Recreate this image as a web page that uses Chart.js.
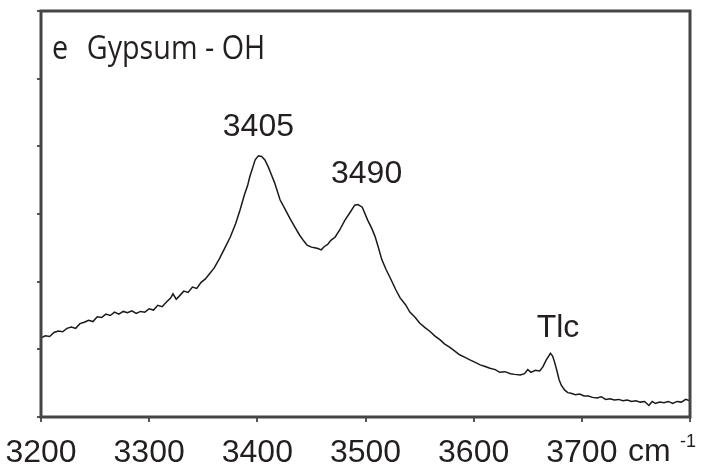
<!DOCTYPE html>
<html>
<head>
<meta charset="utf-8">
<script src="https://cdn.jsdelivr.net/npm/chart.js@4.4.1/dist/chart.umd.min.js"></script>
<style>
    html, body { margin: 0; padding: 0; background: #fff; }
    #wrap { width: 703px; height: 476px; }
</style>
</head>
<body>
<div id="wrap"><canvas id="ir-chart" width="703" height="476"></canvas></div>
<script>
// Datos del espectro (número de onda en cm-1, absorbancia relativa)
const wavenumbers = [
    3200, 3204, 3208, 3212, 3216, 3220, 3224, 3228, 3232, 3236,
    3240, 3244, 3248, 3252, 3256, 3260, 3264, 3268, 3272, 3276,
    3280, 3284, 3288, 3292, 3296, 3300, 3304, 3308, 3312, 3316,
    3320, 3322, 3325, 3328, 3332, 3336, 3340, 3344, 3348, 3352,
    3356, 3360, 3365, 3370, 3375, 3380, 3384, 3388, 3391, 3393,
    3396, 3398, 3401, 3404, 3407, 3410, 3412, 3416, 3421, 3426,
    3430, 3435, 3439, 3443, 3446, 3450, 3453, 3456, 3459, 3462,
    3465, 3468, 3472, 3476, 3481, 3486, 3490, 3493, 3497, 3502,
    3506, 3509, 3512, 3515, 3519, 3523, 3528, 3532, 3537, 3541,
    3546, 3550, 3555, 3560, 3564, 3569, 3573, 3578, 3582, 3587,
    3592, 3597, 3601, 3606, 3610, 3615, 3620, 3624, 3629, 3634,
    3638, 3643, 3647, 3650, 3653, 3657, 3661, 3664, 3667, 3671,
    3673, 3675, 3677, 3679, 3681, 3684, 3687, 3690, 3694, 3698,
    3702, 3706, 3710, 3714, 3718, 3722, 3726, 3730, 3734, 3738,
    3742, 3746, 3750, 3754, 3758, 3762, 3765, 3768, 3772, 3776,
    3780, 3784, 3788, 3792, 3796, 3800
];
const absorbance = [
    1.17, 1.20, 1.19, 1.25, 1.27, 1.26, 1.31, 1.33, 1.31, 1.38,
    1.40, 1.43, 1.41, 1.48, 1.47, 1.52, 1.50, 1.55, 1.52, 1.56,
    1.54, 1.57, 1.53, 1.56, 1.55, 1.60, 1.58, 1.65, 1.63, 1.70,
    1.76, 1.82, 1.74, 1.79, 1.86, 1.84, 1.92, 1.90, 1.99, 2.04,
    2.12, 2.20, 2.34, 2.50, 2.66, 2.86, 3.06, 3.28, 3.42, 3.55,
    3.70, 3.80, 3.86, 3.85, 3.80, 3.70, 3.62, 3.46, 3.21, 3.06,
    2.94, 2.80, 2.69, 2.60, 2.54, 2.51, 2.50, 2.49, 2.47, 2.52,
    2.55, 2.61, 2.66, 2.76, 2.91, 3.03, 3.13, 3.14, 3.10, 2.91,
    2.78, 2.66, 2.50, 2.33, 2.18, 2.05, 1.88, 1.76, 1.66, 1.55,
    1.47, 1.39, 1.32, 1.26, 1.20, 1.14, 1.08, 1.03, 0.98, 0.92,
    0.88, 0.84, 0.81, 0.77, 0.75, 0.72, 0.70, 0.66, 0.67, 0.64,
    0.63, 0.62, 0.64, 0.70, 0.66, 0.69, 0.68, 0.74, 0.84, 0.94,
    0.90, 0.80, 0.68, 0.55, 0.47, 0.40, 0.36, 0.35, 0.33, 0.34,
    0.31, 0.31, 0.29, 0.28, 0.30, 0.26, 0.27, 0.25, 0.26, 0.24,
    0.25, 0.23, 0.24, 0.22, 0.23, 0.17, 0.23, 0.20, 0.22, 0.21,
    0.23, 0.20, 0.23, 0.22, 0.26, 0.24
];

// Etiquetas del eje x (la última posición lleva la unidad)
const xTickValues = [3200, 3300, 3400, 3500, 3600, 3700, 3800];
const xTickLabels = ['3200', '3300', '3400', '3500', '3600', '3700', ''];

// Etiquetas de picos
const peakNames = ['3405', '3490', 'Tlc'];
const peakX = [3401, 3501, 3678];
const peakY = [4.15, 3.46, 1.18];

const panelTitle = ['e', 'Gypsum - OH'];

const textColor = '#231f20';

// Plugin para el marco, el título y las etiquetas
const decorations = {
    id: 'decorations',
    afterDatasetsDraw(chart) {
        const ctx = chart.ctx;
        const area = chart.chartArea;
        const xs = chart.scales.x;
        const ys = chart.scales.y;
        ctx.save();

        // Marco
        ctx.strokeStyle = '#454545';
        ctx.lineWidth = 3;
        ctx.strokeRect(area.left, area.top, area.right - area.left, area.bottom - area.top);

        // Título del panel (fuente algo estrecha)
        ctx.fillStyle = textColor;
        ctx.textBaseline = 'alphabetic';
        ctx.textAlign = 'left';
        ctx.font = '33px "Open Sans"';
        ctx.save();
        ctx.translate(area.left + 11, 59);
        ctx.scale(0.87, 1);
        ctx.fillText(panelTitle[0], 0, 0);
        ctx.fillText(panelTitle[1], 40, 0);
        ctx.restore();

        // Picos
        ctx.font = '32px "Liberation Sans"';
        ctx.textAlign = 'center';
        peakNames.forEach((name, i) => {
            ctx.fillText(name, xs.getPixelForValue(peakX[i]), ys.getPixelForValue(peakY[i]));
        });

        // Unidad cm-1
        const xEnd = xs.getPixelForValue(3800);
        ctx.textAlign = 'left';
        ctx.font = '32px "Liberation Sans"';
        ctx.fillText('cm', xEnd - 62, 461);
        ctx.font = '18px "Liberation Sans"';
        ctx.fillText('-1', xEnd - 10, 447);

        ctx.restore();
    }
};

const irChart = new Chart(document.getElementById('ir-chart'), {
    type: 'line',
    data: {
        datasets: [{
            label: 'Gypsum - OH',
            data: wavenumbers.map((w, i) => ({ x: w, y: absorbance[i] })),
            borderColor: '#1a1a1a',
            borderWidth: 1.5,
            pointRadius: 0,
            tension: 0
        }]
    },
    options: {
        responsive: false,
        animation: false,
        devicePixelRatio: 1,
        layout: {
            padding: { left: 0, right: 13, top: 11, bottom: 0 }
        },
        plugins: {
            legend: { display: false },
            tooltip: { enabled: false }
        },
        scales: {
            x: {
                type: 'linear',
                min: 3200,
                max: 3800,
                afterBuildTicks: (scale) => {
                    scale.ticks = xTickValues.map(v => ({ value: v }));
                },
                afterFit: (scale) => {
                    scale.height = 59;
                    scale.paddingLeft = 0;
                    scale.paddingRight = 0;
                },
                border: { display: false },
                grid: {
                    drawOnChartArea: false,
                    drawTicks: true,
                    tickLength: 5,
                    color: '#555',
                    lineWidth: 2
                },
                ticks: {
                    autoSkip: false,
                    maxRotation: 0,
                    padding: 12,
                    color: textColor,
                    font: { family: '"Liberation Sans"', size: 32 },
                    callback: (value) => {
                        const idx = xTickValues.indexOf(value);
                        return idx >= 0 ? xTickLabels[idx] : '';
                    }
                }
            },
            y: {
                type: 'linear',
                min: 0,
                max: 6,
                afterFit: (scale) => {
                    scale.width = 41;
                    scale.paddingTop = 0;
                    scale.paddingBottom = 0;
                },
                border: { display: false },
                grid: {
                    drawOnChartArea: false,
                    drawTicks: true,
                    tickLength: 4,
                    color: '#555',
                    lineWidth: 2
                },
                ticks: {
                    stepSize: 1,
                    display: false
                }
            }
        }
    },
    plugins: [decorations]
});
</script>
</body>
</html>
